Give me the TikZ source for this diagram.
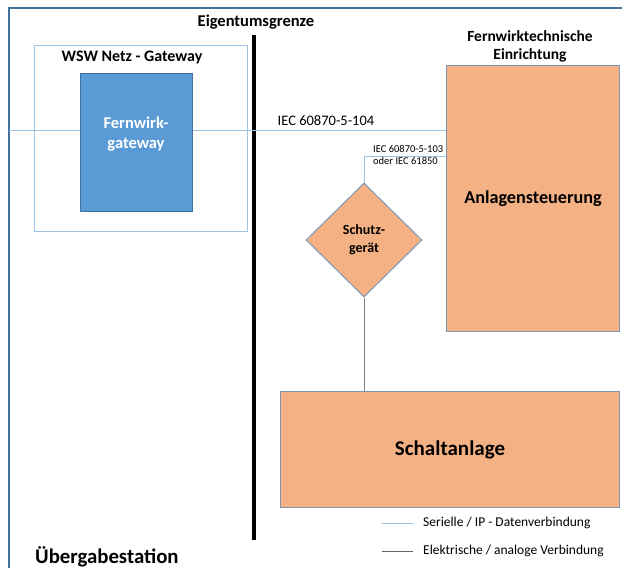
\documentclass[tikz,border=0pt]{standalone}
\usepackage{fontspec}
\setmainfont{Carlito}
\usetikzlibrary{shapes.geometric}

\definecolor{rahmenblau}{HTML}{41719C}
\definecolor{hellblau}{HTML}{9DC3E6}
\definecolor{gwblau}{HTML}{5B9BD5}
\definecolor{anlagenorange}{HTML}{F4B183}
\definecolor{kantenblau}{HTML}{7C98B6}
\definecolor{elektrograu}{HTML}{7F7F7F}

\begin{document}
\begin{tikzpicture}[
            x=1pt, y=-1pt,
            anlage/.style = {
                draw=kantenblau,
                fill=anlagenorange,
                line width=1pt,
                inner sep=0pt,
                font=\fontsize{18.2}{21}\selectfont\bfseries
            },
            gateway/.style = {
                draw=rahmenblau,
                fill=gwblau,
                line width=1pt,
                minimum width=112,
                minimum height=138
            },
            titel/.style = {
                font=\fontsize{16}{18.5}\selectfont\bfseries,
                align=center
            },
            protokoll/.style = {
                font=\fontsize{10.5}{12}\selectfont,
                align=left,
                inner sep=1pt
            },
            legende/.style = {
                font=\fontsize{13.5}{15}\selectfont,
                anchor=west,
                inner sep=0pt
            },
            datenlink/.style = {hellblau, line width=0.9pt},
            elektrolink/.style = {elektrograu, line width=0.9pt}
        ]
            \useasboundingbox (0,0) rectangle (622,568);

            % Rahmen der Station
            \draw[rahmenblau, line width=2pt] (9,580) -- (9,8) -- (630,8);
            \node[anchor=west, inner sep=0pt, font=\fontsize{20.8}{24}\selectfont\bfseries] (station) at (35,557) {Übergabestation};

            % Eigentumsgrenze
            \node[titel, font=\fontsize{16.5}{19}\selectfont\bfseries] (grenzetext) at (256,22) {Eigentumsgrenze};
            \coordinate (grenzeoben) at (254,35);
            \coordinate (grenzeunten) at (254,540);
            \draw[black, line width=4pt] (grenzeoben) -- (grenzeunten);

            % Gateway
            \node[draw=hellblau, line width=1.2pt, minimum width=213, minimum height=186, anchor=north west] (gwrahmen) at (34,45) {};
            \node[titel] (gwtitel) at (132,58) {WSW Netz - Gateway};

            % Fernwirktechnik
            \node[titel, font=\fontsize{15.5}{18}\selectfont\bfseries] (fwtitel) at (530,46) {Fernwirktechnische\\Einrichtung};
            \node[anlage, minimum width=173, minimum height=266, anchor=north west] (steuerung) at (446,65) {Anlagensteuerung};
            \node[anlage, font=\fontsize{21}{24}\selectfont\bfseries, minimum width=339, minimum height=116, anchor=north west] (schalt) at (280,391) {Schaltanlage};
            \node[anlage, diamond, font=\fontsize{14}{18}\selectfont\bfseries, align=center, minimum width=116, minimum height=114] (schutz) at (364,240) {Schutz-\\gerät};

            % Verbindungen
            \coordinate (wan) at (9,130);
            \draw[datenlink] (wan) -- (wan -| steuerung.west);
            \node[gateway] (fwgw) at (136,142) {};
            \node[titel, white, font=\fontsize{16.5}{20}\selectfont\bfseries] (fwgwtext) at (136,134) {Fernwirk-\\gateway};
            \node[font=\fontsize{14.5}{17}\selectfont] (iec104) at (326,121) {IEC 60870-5-104};

            \coordinate (knick) at (364,156);
            \draw[datenlink] (schutz.north) -- (knick) -- (knick -| steuerung.west);
            \node[protokoll, anchor=south west] (iec103) at (372,166) {IEC 60870-5-103\\oder IEC 61850};

            \draw[elektrolink] (schutz.south) -- (schutz.south |- schalt.north);

            % Legende
            \coordinate (daten1) at (382,523);
            \coordinate (daten2) at (413,523);
            \coordinate (elektro1) at (382,551);
            \coordinate (elektro2) at (413,551);
            \draw[datenlink] (daten1) -- (daten2);
            \draw[elektrolink, black!60] (elektro1) -- (elektro2);
            \node[legende] (datentext) at (423,523) {Serielle / IP - Datenverbindung};
            \node[legende] (elektrotext) at (423,551) {Elektrische / analoge Verbindung};

        \end{tikzpicture}
\end{document}
